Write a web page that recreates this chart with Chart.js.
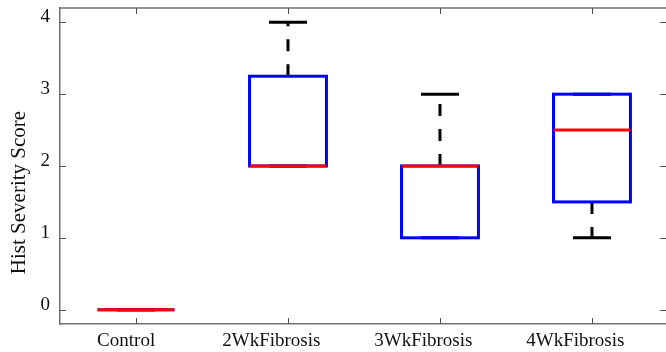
<!DOCTYPE html>
<html><head><meta charset="utf-8">
<script src="https://cdn.jsdelivr.net/npm/chart.js@4/dist/chart.umd.min.js"></script>
<style>html,body{margin:0;padding:0;background:#fff}#wrap{width:666px;height:352px}</style>
</head><body><div id="wrap"><canvas id="c" width="666" height="352"></canvas></div>
<script>
// ---- data ----
const categories = ['Control', '2WkFibrosis', '3WkFibrosis', '4WkFibrosis'];
const whiskerLow  = [0, 2,    1, 1];
const q1          = [0, 2,    1, 1.5];
const median      = [0, 2,    2, 2.5];
const q3          = [0, 3.25, 2, 3];
const whiskerHigh = [0, 4,    3, 3];
const yTicks = [0, 1, 2, 3, 4];
const yTitle = 'Hist Severity Score';

const BOX_HALF = 0.253, CAP_HALF = 0.125;
const FONT = 'Liberation Serif, Times New Roman, serif';

const boxPlugin = {
  id: 'boxplot',
  afterDatasetsDraw(chart) {
    const {ctx, chartArea: a} = chart;
    const x = chart.scales.x, y = chart.scales.y;
    ctx.save();
    // frame top line
    ctx.strokeStyle = '#707070'; ctx.lineWidth = 1.5;
    ctx.beginPath(); ctx.moveTo(a.left, a.top); ctx.lineTo(a.right, a.top); ctx.stroke();
    // tick marks (inward)
    ctx.strokeStyle = '#505050'; ctx.lineWidth = 1;
    yTicks.forEach(v => {
      const py = Math.round(y.getPixelForValue(v)) + 0.5;
      ctx.beginPath(); ctx.moveTo(a.left, py); ctx.lineTo(a.left + 6, py); ctx.stroke();
      ctx.beginPath(); ctx.moveTo(a.right, py); ctx.lineTo(a.right - 6, py); ctx.stroke();
    });
    categories.forEach((c, i) => {
      const px = Math.round(x.getPixelForValue(i + 1)) + 0.5;
      ctx.beginPath(); ctx.moveTo(px, a.bottom); ctx.lineTo(px, a.bottom - 6); ctx.stroke();
      ctx.beginPath(); ctx.moveTo(px, a.top); ctx.lineTo(px, a.top + 6); ctx.stroke();
    });
    // boxes
    categories.forEach((c, i) => {
      const cx = x.getPixelForValue(i + 1);
      const bl = x.getPixelForValue(i + 1 - BOX_HALF), br = x.getPixelForValue(i + 1 + BOX_HALF);
      const cl = x.getPixelForValue(i + 1 - CAP_HALF), cr = x.getPixelForValue(i + 1 + CAP_HALF);
      const yq1 = y.getPixelForValue(q1[i]), yq3 = y.getPixelForValue(q3[i]);
      const ylo = y.getPixelForValue(whiskerLow[i]), yhi = y.getPixelForValue(whiskerHigh[i]);
      const ym = y.getPixelForValue(median[i]);
      ctx.lineCap = 'butt';
      // whiskers
      ctx.strokeStyle = '#000'; ctx.lineWidth = 3;
      ctx.setLineDash([12, 13]);
      if (yhi < yq3) { ctx.beginPath(); ctx.moveTo(cx, yq3); ctx.lineTo(cx, yhi); ctx.stroke(); }
      if (ylo > yq1) { ctx.beginPath(); ctx.moveTo(cx, yq1); ctx.lineTo(cx, ylo); ctx.stroke(); }
      ctx.setLineDash([]);
      ctx.beginPath(); ctx.moveTo(cl, yhi); ctx.lineTo(cr, yhi); ctx.stroke();
      ctx.beginPath(); ctx.moveTo(cl, ylo); ctx.lineTo(cr, ylo); ctx.stroke();
      // box
      ctx.strokeStyle = '#0000ff'; ctx.lineWidth = 3; ctx.lineJoin = 'miter';
      ctx.strokeRect(bl, yq3, br - bl, yq1 - yq3);
      // median
      ctx.strokeStyle = '#ff0000'; ctx.lineWidth = 3;
      ctx.beginPath(); ctx.moveTo(bl, ym); ctx.lineTo(br, ym); ctx.stroke();
    });
    // category labels (placed slightly left of their tick, as in the reference)
    ctx.fillStyle = '#111';
    ctx.font = '19px ' + FONT;
    ctx.textAlign = 'center'; ctx.textBaseline = 'alphabetic';
    categories.forEach((c, i) => {
      const w = ctx.measureText(c).width;
      ctx.fillText(c, x.getPixelForValue(i + 1) - 0.17 * w, a.bottom + 21.5);
    });
    // y title
    ctx.font = '21px ' + FONT;
    ctx.translate(25, 192.5); ctx.rotate(-Math.PI / 2);
    ctx.textAlign = 'center'; ctx.textBaseline = 'alphabetic';
    ctx.fillText(yTitle, 0, 0);
    ctx.restore();
  }
};

new Chart(document.getElementById('c'), {
  type: 'scatter',
  data: { datasets: [{ data: [], pointRadius: 0 }] },
  options: {
    responsive: false, animation: false, events: [],
    layout: { padding: { top: 8, right: 0, left: 0, bottom: 0 } },
    plugins: { legend: { display: false }, tooltip: { enabled: false } },
    scales: {
      x: {
        type: 'linear', min: 0.5, max: 4.487, bounds: 'data',
        afterBuildTicks: s => { s.ticks = categories.map((c, i) => ({ value: i + 1 })); },
        ticks: { display: false },
        grid: { display: false, drawTicks: false },
        border: { display: true, color: '#707070', width: 1.5 },
        afterFit: s => { s.height = 28; s.paddingLeft = 0; s.paddingRight = 0; }
      },
      y: {
        type: 'linear', min: -0.2, max: 4.2, bounds: 'data',
        afterBuildTicks: s => { s.ticks = yTicks.map(v => ({ value: v })); },
        ticks: { callback: v => String(v), font: { family: FONT, size: 19 }, color: '#111', padding: 10, labelOffset: -5 },
        grid: { display: false, drawTicks: false },
        border: { display: true, color: '#707070', width: 1.5 },
        afterFit: s => { s.width = 60; s.paddingTop = 0; s.paddingBottom = 0; }
      }
    }
  },
  plugins: [boxPlugin]
});
</script>
</body></html>
